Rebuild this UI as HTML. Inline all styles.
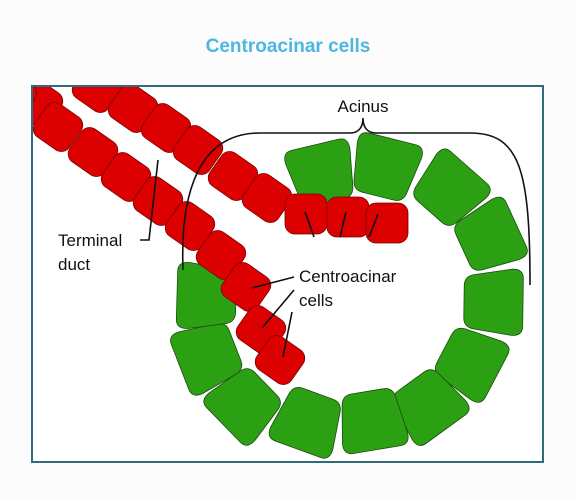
<!DOCTYPE html>
<html><head><meta charset="utf-8"><style>
body{margin:0;background:#fcfcfc;width:576px;height:495px;overflow:hidden;font-family:"Liberation Sans",sans-serif}
</style></head><body>
<svg width="576" height="495">
<text x="288" y="52" text-anchor="middle" font-size="19" font-weight="bold" fill="#4db6e2">Centroacinar cells</text>
<rect x="32" y="86" width="511" height="376" fill="#fff" stroke="#2e6b7b" stroke-width="2"/>
<defs><clipPath id="c"><rect x="33" y="87" width="509" height="374"/></clipPath></defs>
<g id="cells" clip-path="url(#c)"></g>
<g fill="none" stroke="#111" stroke-width="1.6">
<path d="M183,270 C180,190 200,133 260,133 L350,133 C358,133 363,128 363,118 C363,128 368,133 376,133 L470,133 C520,133 530,170 530,285"/>
<path d="M140,240 L149,240 L158,160"/>
<path d="M314,237 L305,212 M340,237 L346,212 M369,237 L378,214"/>
<path d="M294,277 L252,288 M294,290 L262,328 M292,312 L283,357"/>
</g>
<text x="363" y="112" text-anchor="middle" font-size="17" fill="#111">Acinus</text>
<text x="58" y="246" font-size="17" fill="#111">Terminal</text>
<text x="58" y="270" font-size="17" fill="#111">duct</text>
<text x="299" y="282" font-size="17" fill="#111">Centroacinar</text>
<text x="299" y="306" font-size="17" fill="#111">cells</text>
</svg>
<script>
const greenCells=[[322,174],[385,168],[449,190],[489,237],[493,302],[470,362],[428,405],[372,420],[308,421],[245,404],[208,356],[207,296]];
const redCells=[[38,103],[97,88],[133,108],[166,128],[198,150],[233,176],[267,198],[12,95],[58,127],[93,152],[126,177],[158,201],[190,226],[221,255],[246,287],[261,330],[280,360],[306,214],[348,217],[387,223]];
const g=document.getElementById('cells');
const NS='http://www.w3.org/2000/svg';
const cx=352,cy=300;
greenCells.forEach(([x,y])=>{
 const r=Math.atan2(x-cx,-(y-cy))*180/Math.PI;
 const p=document.createElementNS(NS,'path');
 p.setAttribute('d','M-24,-30 L24,-30 Q34,-30 33,-18 L27,20 Q25,29 16,29 L-16,29 Q-25,29 -27,20 L-33,-18 Q-34,-30 -24,-30 Z');
 p.setAttribute('transform',`translate(${x},${y}) rotate(${r})`);
 p.setAttribute('fill','#2aa012');p.setAttribute('stroke','#1d4a12');p.setAttribute('stroke-width','0.8');
 
 
 g.appendChild(p);
});
redCells.forEach(([x,y],i)=>{
 const p=document.createElementNS(NS,'rect');
 p.setAttribute('x',-21);p.setAttribute('y',-20);p.setAttribute('width',42);p.setAttribute('height',40);p.setAttribute('rx',10);
 const rot=i>=17?0:35;
 p.setAttribute('transform',`translate(${x},${y}) rotate(${rot})`);
 p.setAttribute('fill','#dd0000');p.setAttribute('stroke','#7a0000');p.setAttribute('stroke-width','0.8');
 
 
 g.appendChild(p);
});
</script>
</body></html>
